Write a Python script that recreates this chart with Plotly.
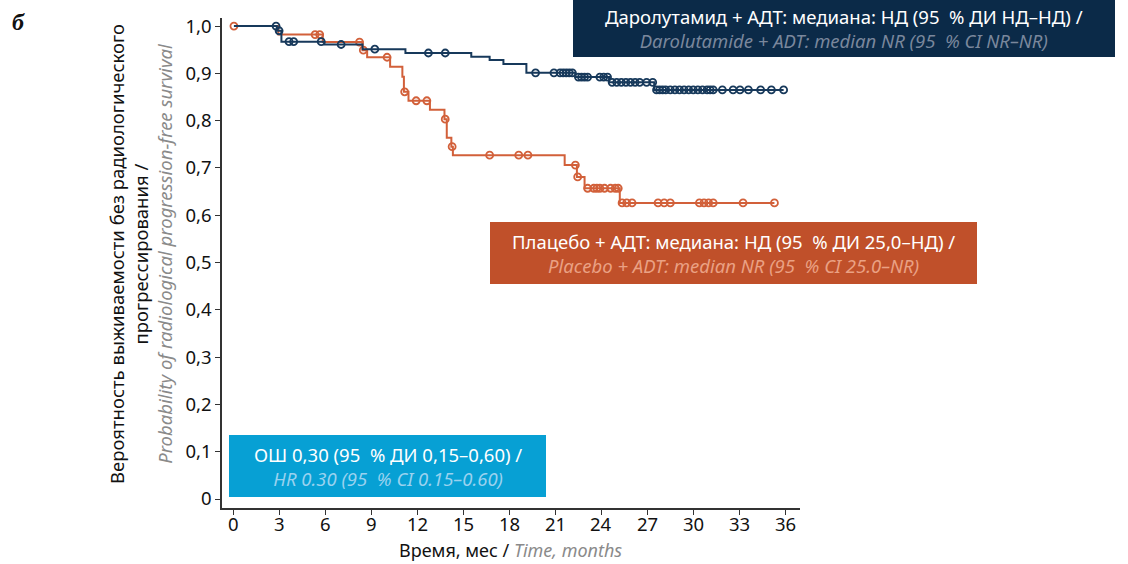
import numpy as np
import plotly.graph_objects as go

# ---- Kaplan–Meier data (months, survival probability) ----
# Darolutamide + ADT: times of drops and the survival level after each drop
daro_step_t = [0.0, 2.8, 3.1, 5.9, 8.4, 11.2, 15.5, 16.7, 17.6, 19.1, 22.3, 24.5, 27.45]
daro_step_s = [1.0, 0.99, 0.967, 0.961, 0.951, 0.943, 0.935, 0.928, 0.920, 0.901, 0.892, 0.881, 0.865]
daro_end_t = 35.9
# censored observations (months)
daro_cens_t = [2.75, 2.95, 3.6, 3.9, 5.7, 7.0, 9.2, 12.7, 13.8, 19.7, 20.9,
               21.3, 21.5, 21.7, 21.9, 22.1, 22.5, 22.7, 22.9, 23.1, 23.9, 24.15, 24.4,
               24.7, 25.0, 25.3, 25.6, 25.9, 26.2, 26.5, 26.95, 27.35,
               27.6, 27.8, 28.0, 28.2, 28.5, 28.8, 29.1, 29.4, 29.7, 30.0, 30.3, 30.6,
               30.9, 31.1, 31.3, 31.9, 32.6, 33.05, 33.6, 34.4, 35.1, 35.9]

# Placebo + ADT
plac_step_t = [0.0, 2.9, 5.8, 8.4, 8.7, 10.2, 11.0, 11.1, 11.4, 12.8, 13.75, 13.9, 14.2, 14.3,
               21.6, 22.4, 22.9, 25.2]
plac_step_s = [1.0, 0.982, 0.966, 0.949, 0.934, 0.914, 0.893, 0.861, 0.842, 0.823, 0.803, 0.764,
               0.745, 0.727, 0.706, 0.681, 0.657, 0.626]
plac_end_t = 35.3
plac_cens_t = [0.0, 5.3, 5.6, 8.2, 8.45, 10.0, 11.15, 11.9, 12.6, 13.8, 14.25, 16.7, 18.6, 19.2,
               22.3, 22.45, 23.1, 23.5, 23.7, 23.9, 24.2, 24.6, 24.9, 25.1,
               25.35, 25.65, 26.0, 27.7, 28.1, 28.5, 30.4, 30.7, 31.0, 31.3, 33.25, 35.3]

x_ticks = list(range(0, 37, 3))
y_tickvals = [0.0, 0.1, 0.2, 0.3, 0.4, 0.5, 0.6, 0.7, 0.8, 0.9, 1.0]
y_ticktext = ["0", "0,1", "0,2", "0,3", "0,4", "0,5", "0,6", "0,7", "0,8", "0,9", "1,0"]

NAVY = "#17395b"
ORANGE = "#d2603a"
FONT = "Noto Sans"
FS = 18.5


def km_at(step_t, step_s, t):
    idx = np.searchsorted(np.asarray(step_t), t, side="right") - 1
    return np.asarray(step_s)[idx]


fig = go.Figure()
for st, ss, end, cens, col in [
    (plac_step_t, plac_step_s, plac_end_t, plac_cens_t, ORANGE),
    (daro_step_t, daro_step_s, daro_end_t, daro_cens_t, NAVY),
]:
    fig.add_trace(go.Scatter(
        x=st + [end], y=ss + [ss[-1]], mode="lines", line_shape="hv",
        line=dict(color=col, width=2), hoverinfo="skip", showlegend=False))
    fig.add_trace(go.Scatter(
        x=cens, y=km_at(st, ss, cens), mode="markers",
        marker=dict(symbol="circle-open", size=7, color=col, line=dict(width=1.8, color=col)),
        showlegend=False))

# plot-area geometry in pixels
L, T, W, H = 222, 18, 578, 490
FIG_W, FIG_H = 1128, 564


def px(xp):
    return (xp - L) / W


def py(yp):
    return (T + H - yp) / H


shapes = []
annotations = []


def box(x0, y0, x1, y1, fill, line1, line2, c2, size=FS):
    shapes.append(dict(type="rect", xref="paper", yref="paper",
                       x0=px(x0), x1=px(x1), y0=py(y1), y1=py(y0),
                       fillcolor=fill, line=dict(width=0), layer="above"))
    cx = (x0 + x1) / 2
    cy = (y0 + y1) / 2
    annotations.append(dict(
        xref="paper", yref="paper", x=px(cx), y=py(cy), showarrow=False,
        xanchor="center", yanchor="middle", align="center",
        text=f"{line1}<br><i><span style='color:{c2}'>{line2}</span></i>",
        font=dict(family=FONT, size=size, color="white")))


box(573, 0, 1115, 57, "#0b2a48",
    "Даролутамид + АДТ: медиана: НД (95  % ДИ НД–НД) /",
    "Darolutamide + ADT: median NR (95  % CI NR–NR)", "#7a879c")
box(490, 222, 977, 284, "#c0502a",
    "Плацебо + АДТ: медиана: НД (95  % ДИ 25,0–НД) /",
    "Placebo + ADT: median NR (95  % CI 25.0–NR)", "#eaa184")
box(229, 435, 546, 497, "#07a0d4",
    "ОШ 0,30 (95  % ДИ 0,15–0,60) /",
    "HR 0.30 (95  % CI 0.15–0.60)", "#9ad2ef")

# x tick labels placed just under the axis line
for v in x_ticks:
    annotations.append(dict(
        xref="x", yref="paper", x=v, y=py(523), showarrow=False,
        xanchor="center", yanchor="middle", text=str(v),
        font=dict(family=FONT, size=FS, color="#111111")))

# y-axis title (three lines, rotated)
annotations.append(dict(
    xref="paper", yref="paper", x=px(140), y=py(254), showarrow=False,
    textangle=-90, xanchor="center", yanchor="middle", align="center",
    text="Вероятность выживаемости без радиологического<br>прогрессирования /<br>"
         "<i><span style='color:#8a8a8a'>Probability of radiological progression-free survival</span></i>",
    font=dict(family=FONT, size=FS, color="#111111")))

# x-axis title
annotations.append(dict(
    xref="paper", yref="paper", x=px(510), y=py(550), showarrow=False,
    xanchor="center", yanchor="middle",
    text="Время, мес / <i><span style='color:#8a8a8a'>Time, months</span></i>",
    font=dict(family=FONT, size=18, color="#111111")))

# panel letter
annotations.append(dict(
    xref="paper", yref="paper", x=px(10), y=py(22), showarrow=False,
    xanchor="left", yanchor="middle", text="<b><i>б</i></b>",
    font=dict(family="Liberation Serif", size=24, color="#111111")))

fig.update_layout(
    width=FIG_W, height=FIG_H,
    margin=dict(l=L, r=FIG_W - L - W, t=T, b=FIG_H - T - H),
    paper_bgcolor="white", plot_bgcolor="white",
    shapes=shapes, annotations=annotations,
    xaxis=dict(range=[-0.78, 36.97], tickvals=x_ticks, showticklabels=False,
               showgrid=False, zeroline=False,
               showline=True, linecolor="#333333", linewidth=1.5,
               ticks="outside", ticklen=5, tickcolor="#333333", tickwidth=1.2),
    yaxis=dict(range=[-0.019, 1.017], tickvals=y_tickvals, ticktext=y_ticktext,
               showgrid=False, zeroline=False,
               showline=True, linecolor="#333333", linewidth=1.5,
               ticks="outside", ticklen=5, tickcolor="#333333", tickwidth=1.2,
               tickfont=dict(family=FONT, size=FS, color="#111111")),
)

fig.write_html("out.html")
